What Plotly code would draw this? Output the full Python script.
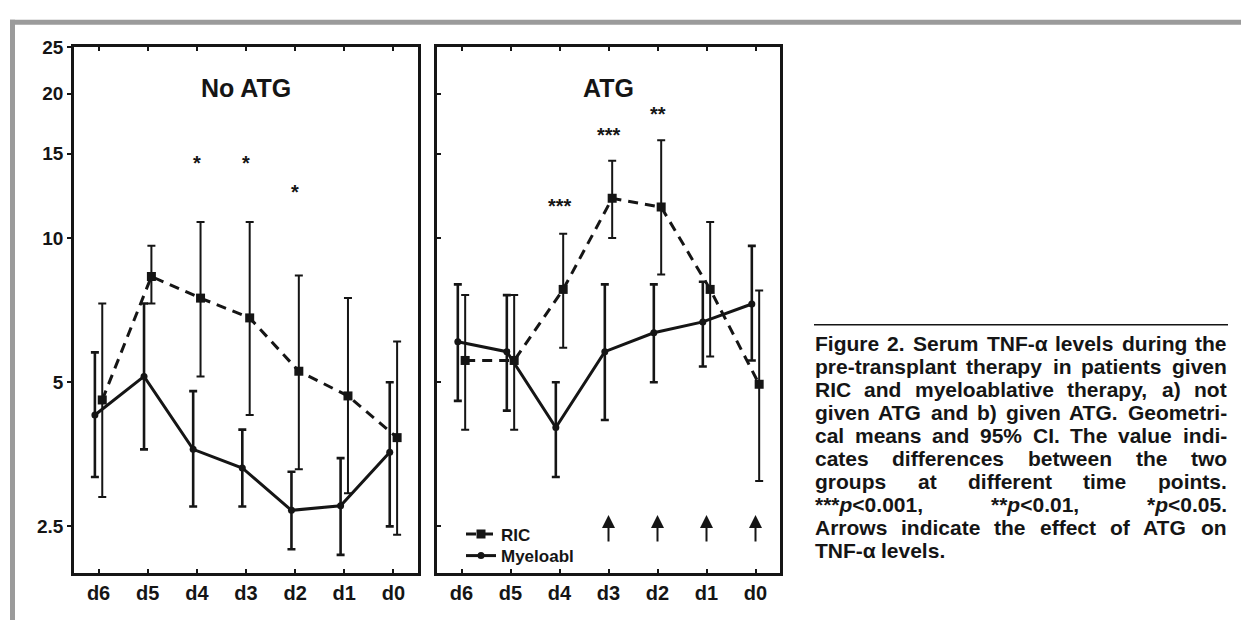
import numpy as np
import plotly.graph_objects as go

# ---------------- data ----------------
days = ["d6", "d5", "d4", "d3", "d2", "d1", "d0"]

# Panel a) No ATG  (geometric means and 95% CI)
noatg_ric_mean = [4.59, 8.31, 7.49, 6.81, 5.27, 4.68, 3.83]
noatg_ric_low = [2.88, 7.30, 5.14, 4.27, 3.29, 2.93, 2.40]
noatg_ric_high = [7.30, 9.63, 10.8, 10.8, 8.35, 7.49, 6.08]
noatg_mye_mean = [4.27, 5.14, 3.62, 3.31, 2.70, 2.76, 3.57]
noatg_mye_low = [3.17, 3.62, 2.75, 2.75, 2.24, 2.18, 2.50]
noatg_mye_high = [5.77, 7.30, 4.79, 3.98, 3.25, 3.47, 5.00]

# Panel b) ATG
atg_ric_mean = [5.55, 5.55, 7.81, 12.1, 11.6, 7.81, 4.95]
atg_ric_low = [3.98, 3.98, 5.90, 10.0, 8.39, 5.66, 3.11]
atg_ric_high = [7.60, 7.60, 10.2, 14.5, 16.0, 10.8, 7.77]
atg_mye_mean = [6.07, 5.79, 4.02, 5.79, 6.34, 6.68, 7.28]
atg_mye_low = [4.57, 4.36, 3.17, 4.17, 5.00, 5.39, 5.55]
atg_mye_high = [8.00, 7.60, 5.00, 8.00, 8.00, 8.10, 9.63]

# significance labels and the height where they are written
noatg_stars = ["", "", "*", "*", "*", "", ""]
noatg_star_y = [0, 0, 14.6, 14.6, 12.7, 0, 0]
atg_stars = ["", "", "***", "***", "**", "", ""]
atg_star_y = [0, 0, 11.9, 16.7, 18.5, 0, 0]
atg_arrows = [0, 0, 0, 1, 1, 1, 1]

y_ticks = [2.5, 5, 10, 15, 20, 25]
y_ticktext = ["2.5", "5", "10", "15", "20", "25"]

caption_lines = [
    "Figure 2. Serum TNF-\u03b1 levels during the",
    "pre-transplant therapy in patients given",
    "RIC and myeloablative therapy, a) not",
    "given ATG and b) given ATG. Geometri-",
    "cal means and 95% CI. The value indi-",
    "cates differences between the two",
    "groups at different time points.",
    "***p<0.001, **p<0.01, *p<0.05.",
    "Arrows indicate the effect of ATG on",
    "TNF-\u03b1 levels.",
]

# ---------------- figure ----------------
W, H = 1241, 620
INK = "#151515"
FONT = "Liberation Sans"


def fx(p):
    return p / W


def fy(p):
    return (H - p) / H


idx = np.arange(len(days))
OFF = 0.075

fig = go.Figure()


def add_panel(xa, ya, ric_m, ric_l, ric_h, mye_m, mye_l, mye_h, legend):
    ric_m, ric_l, ric_h = map(np.array, (ric_m, ric_l, ric_h))
    mye_m, mye_l, mye_h = map(np.array, (mye_m, mye_l, mye_h))
    fig.add_trace(go.Scatter(
        x=idx + OFF, y=ric_m, xaxis=xa, yaxis=ya, name="RIC",
        mode="lines+markers", showlegend=legend, legend="legend",
        line=dict(color=INK, width=3, dash="10px,7px"),
        marker=dict(symbol="square", size=9, color=INK),
        error_y=dict(type="data", symmetric=False, array=ric_h - ric_m,
                     arrayminus=ric_m - ric_l, color=INK, thickness=2, width=4),
    ))
    fig.add_trace(go.Scatter(
        x=idx - OFF, y=mye_m, xaxis=xa, yaxis=ya, name="Myeloabl",
        mode="lines+markers", showlegend=legend, legend="legend2",
        line=dict(color=INK, width=3),
        marker=dict(symbol="circle", size=7, color=INK),
        error_y=dict(type="data", symmetric=False, array=mye_h - mye_m,
                     arrayminus=mye_m - mye_l, color=INK, thickness=2.6, width=4),
    ))


add_panel("x", "y", noatg_ric_mean, noatg_ric_low, noatg_ric_high,
          noatg_mye_mean, noatg_mye_low, noatg_mye_high, False)
add_panel("x2", "y2", atg_ric_mean, atg_ric_low, atg_ric_high,
          atg_mye_mean, atg_mye_low, atg_mye_high, True)

ydom = [fy(572), fy(38)]
yrange = [np.log10(2.0), np.log10(25.0)]
tickfont = dict(family=FONT, size=19, color=INK, weight="bold")

xcommon = dict(range=[-0.5, 6.5], tickvals=list(idx), ticktext=days,
               ticks="inside", ticklen=4, tickwidth=2, tickcolor=INK,
               showline=True, linewidth=2.5, linecolor=INK, mirror="ticks",
               showgrid=False, zeroline=False,
               tickfont=dict(family=FONT, size=20, color=INK, weight="bold"))
ycommon = dict(type="log", range=yrange, domain=ydom, tickvals=y_ticks,
               ticktext=y_ticktext, tickwidth=2, ticklen=4, tickcolor=INK,
               showline=True, linewidth=2.5, linecolor=INK, mirror=True,
               showgrid=False, zeroline=False, tickfont=tickfont)
rcommon = dict(range=[0, 8], domain=ydom, side="right", tickvals=list(range(1, 8)),
               ticks="inside", ticklen=4, tickwidth=2, tickcolor=INK,
               showticklabels=False, showgrid=False, zeroline=False, showline=False)

legfont = dict(family=FONT, size=17, color=INK, weight="bold")
fig.update_layout(
    width=W, height=H, margin=dict(l=0, r=0, t=0, b=0),
    paper_bgcolor="white", plot_bgcolor="white",
    xaxis=dict(domain=[fx(74), fx(418)], anchor="y", **xcommon),
    xaxis2=dict(domain=[fx(437), fx(780)], anchor="y2", **xcommon),
    yaxis=dict(anchor="x", ticks="outside", **ycommon),
    yaxis2=dict(anchor="x2", ticks="inside", showticklabels=False,
                **{k: v for k, v in ycommon.items() if k != "tickfont"}),
    yaxis3=dict(overlaying="y", anchor="x", **rcommon),
    yaxis4=dict(overlaying="y2", anchor="x2", **rcommon),
    legend=dict(x=fx(461), y=fy(533), xanchor="left", yanchor="middle",
                bgcolor="rgba(0,0,0,0)", itemwidth=30, font=legfont),
    legend2=dict(x=fx(461), y=fy(555), xanchor="left", yanchor="middle",
                 bgcolor="rgba(0,0,0,0)", itemwidth=30, font=legfont),
    showlegend=True,
)

ann = []
# panel titles
ann.append(dict(text="No ATG", xref="x domain", yref="paper", x=0.5, y=fy(63),
                showarrow=False, font=dict(family=FONT, size=25, color=INK, weight="bold")))
ann.append(dict(text="ATG", xref="x2 domain", yref="paper", x=0.5, y=fy(63),
                showarrow=False, font=dict(family=FONT, size=25, color=INK, weight="bold")))
# stars
for xr, yr, labels, ys in (("x", "y", noatg_stars, noatg_star_y),
                           ("x2", "y2", atg_stars, atg_star_y)):
    for i, (s, yv) in enumerate(zip(labels, ys)):
        if s:
            ann.append(dict(text=s, xref=xr, yref=yr, x=i, y=np.log10(yv),
                            showarrow=False, yshift=-4,
                            font=dict(family=FONT, size=20, color=INK, weight="bold")))
# arrows (effect of ATG)
for i, a in enumerate(atg_arrows):
    if a:
        ann.append(dict(text="", xref="x2", yref="y2", x=i, y=np.log10(2.64),
                        ax=0, ay=28, showarrow=True, arrowhead=2, arrowsize=1.3,
                        arrowwidth=2, arrowcolor=INK))

# caption (justified, Arial-bold metrics)
AW = {' ': 278, '*': 389, ',': 278, '-': 333, '.': 278, '%': 889, '(': 333, ')': 333,
      '<': 584, '\u03b1': 611}
for c in "0123456789":
    AW[c] = 556
AW.update(dict(A=722, B=722, C=722, D=722, E=667, F=611, G=778, H=722, I=278, J=556,
               K=722, L=611, M=833, N=722, O=778, P=667, Q=778, R=722, S=667, T=611,
               U=722, V=667, W=944, X=667, Y=667, Z=611))
AW.update(dict(a=556, b=611, c=556, d=611, e=556, f=333, g=611, h=611, i=278, j=278,
               k=556, l=278, m=889, n=611, o=611, p=611, q=611, r=389, s=556, t=333,
               u=611, v=556, w=778, x=556, y=556, z=500))
CAP_FS = 21
CAP_X0, CAP_X1 = 815, 1227
CAP_Y0, CAP_DY = 339, 23.4


def wpx(s):
    return sum(AW.get(c, 556) for c in s) * CAP_FS / 1000.0


def rich(s):
    s = s.replace("<", "&lt;")
    return s.replace("*p", "*<i>p</i>")


capfont = dict(family=FONT, size=CAP_FS, color=INK, weight="bold")
for li, line in enumerate(caption_lines):
    yy = fy(CAP_Y0 + li * CAP_DY)
    words = line.split(" ")
    last = li == len(caption_lines) - 1
    widths = [wpx(w) for w in words]
    gap = wpx(" ") if last or len(words) < 2 else \
        (CAP_X1 - CAP_X0 - sum(widths)) / (len(words) - 1)
    xcur = CAP_X0
    for w, wd in zip(words, widths):
        ann.append(dict(text=rich(w), xref="paper", yref="paper", x=fx(xcur), y=yy,
                        xanchor="left", yanchor="middle", showarrow=False,
                        borderpad=0, borderwidth=0, font=capfont))
        xcur += wd + gap

fig.update_layout(annotations=ann)

# page decorations: grey frame and caption rule
fig.update_layout(shapes=[
    dict(type="line", xref="paper", yref="paper", x0=fx(10), x1=1, y0=fy(12.5), y1=fy(12.5),
         line=dict(color="#9b9b9b", width=5)),
    dict(type="line", xref="paper", yref="paper", x0=fx(12.5), x1=fx(12.5), y0=0, y1=fy(10),
         line=dict(color="#9b9b9b", width=5)),
    dict(type="line", xref="paper", yref="paper", x0=fx(814), x1=fx(1228), y0=fy(320), y1=fy(320),
         line=dict(color=INK, width=1.5)),
])

fig.write_html(
    "out.html",
    config={"displayModeBar": False},
    post_script="document.body.style.margin='0px';document.body.style.overflow='hidden';",
)
